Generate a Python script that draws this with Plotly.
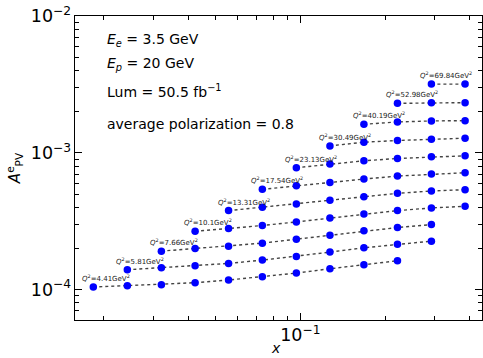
import numpy as np
import plotly.graph_objects as go

# x bin centres (shared grid)
x_bins = [0.0184, 0.0243, 0.0321, 0.0423, 0.0556, 0.0733, 0.0968, 0.1274, 0.1682, 0.2213, 0.2921, 0.3847]

# Q^2 values (GeV^2)
q2_values = ["4.41", "5.81", "7.66", "10.1", "13.31", "17.54", "23.13", "30.49", "40.19", "52.98", "69.84"]

# index of first x bin for each Q^2 row
start_index = [0, 1, 2, 3, 4, 5, 6, 7, 8, 9, 10]

# A_PV^e values per Q^2 row
a_q2_441 = [1.046e-4, 1.069e-4, 1.087e-4, 1.124e-4, 1.176e-4, 1.243e-4, 1.322e-4, 1.422e-4, 1.521e-4, 1.626e-4]
a_q2_581 = [1.398e-4, 1.446e-4, 1.495e-4, 1.555e-4, 1.644e-4, 1.749e-4, 1.881e-4, 2.022e-4, 2.150e-4, 2.262e-4]
a_q2_766 = [1.912e-4, 2.000e-4, 2.080e-4, 2.187e-4, 2.338e-4, 2.500e-4, 2.689e-4, 2.844e-4, 2.990e-4]
a_q2_1010 = [2.674e-4, 2.797e-4, 2.941e-4, 3.127e-4, 3.344e-4, 3.576e-4, 3.782e-4, 3.955e-4, 4.067e-4]
a_q2_1331 = [3.782e-4, 3.999e-4, 4.229e-4, 4.497e-4, 4.782e-4, 5.057e-4, 5.259e-4, 5.378e-4]
a_q2_1754 = [5.408e-4, 5.751e-4, 6.081e-4, 6.430e-4, 6.762e-4, 6.993e-4, 7.151e-4]
a_q2_2313 = [7.78e-4, 8.27e-4, 8.745e-4, 9.094e-4, 9.352e-4, 9.51e-4]
a_q2_3049 = [1.124e-3, 1.196e-3, 1.230e-3, 1.258e-3, 1.279e-3]
a_q2_4019 = [1.617e-3, 1.681e-3, 1.710e-3, 1.719e-3]
a_q2_5298 = [2.300e-3, 2.326e-3, 2.326e-3]
a_q2_6984 = [3.18e-3, 3.18e-3]

rows = [a_q2_441, a_q2_581, a_q2_766, a_q2_1010, a_q2_1331, a_q2_1754,
        a_q2_2313, a_q2_3049, a_q2_4019, a_q2_5298, a_q2_6984]

fig = go.Figure()
annotations = []
for q2, s, vals in zip(q2_values, start_index, rows):
    xs = x_bins[s:s + len(vals)]
    fig.add_trace(go.Scatter(
        x=xs, y=vals, mode="lines+markers",
        line=dict(color="#444444", width=1.4, dash="dot"),
        marker=dict(color="#0000ff", size=7.5, line=dict(width=0)),
        showlegend=False, hoverinfo="skip"))
    annotations.append(dict(
        x=np.log10(xs[0]), y=np.log10(vals[0]), xref="x", yref="y",
        text="<i>Q</i><sup>2</sup>=%sGeV<sup>2</sup>" % q2,
        showarrow=False, xanchor="left", yanchor="middle",
        xshift=-13, yshift=9,
        font=dict(size=7, color="#222222", family="DejaVu Sans")))

info_lines = [
    ("<i>E</i><sub><i>e</i></sub> = 3.5 GeV", 0.921),
    ("<i>E</i><sub><i>p</i></sub> = 20 GeV", 0.842),
    ("Lum = 50.5 fb<sup>−1</sup>", 0.752),
    ("average polarization = 0.8", 0.645),
]
for txt, yp in info_lines:
    annotations.append(dict(
        x=0.074, y=yp, xref="paper", yref="paper", text=txt,
        showarrow=False, xanchor="left", yanchor="middle",
        font=dict(size=14, color="black", family="DejaVu Sans")))

# x-axis title as annotation below tick labels
annotations.append(dict(
    x=0.494, y=-0.126, xref="paper", yref="paper", text="<i>x</i>",
    showarrow=False, xanchor="center", yanchor="bottom",
    font=dict(size=14, color="black", family="DejaVu Sans")))

axis_common = dict(
    type="log", showgrid=False, zeroline=False,
    showline=True, linecolor="black", linewidth=1.2, mirror="ticks",
    ticks="inside", ticklen=7, tickwidth=1, tickcolor="black",
    dtick=1, exponentformat="power",
    tickfont=dict(size=14, color="black", family="DejaVu Sans"),
    minor=dict(ticks="inside", ticklen=4, tickwidth=0.8, tickcolor="black", dtick="D1", showgrid=False),
)

fig.update_layout(
    width=483, height=358,
    margin=dict(l=75, r=1, t=16, b=38),
    paper_bgcolor="white", plot_bgcolor="white",
    font=dict(family="DejaVu Sans", color="black"),
    annotations=annotations,
    xaxis=dict(**axis_common, range=[np.log10(0.01584), np.log10(0.4418)]),
    yaxis=dict(**axis_common, range=[np.log10(6.0e-5), -2],
               title=dict(text="<i>A</i><sup>e</sup><sub>PV</sub>", font=dict(size=15), standoff=6)),
)

fig.write_html("out.html", config={"displayModeBar": False},
               post_script="document.body.style.margin='0';document.body.style.overflow='hidden';")
